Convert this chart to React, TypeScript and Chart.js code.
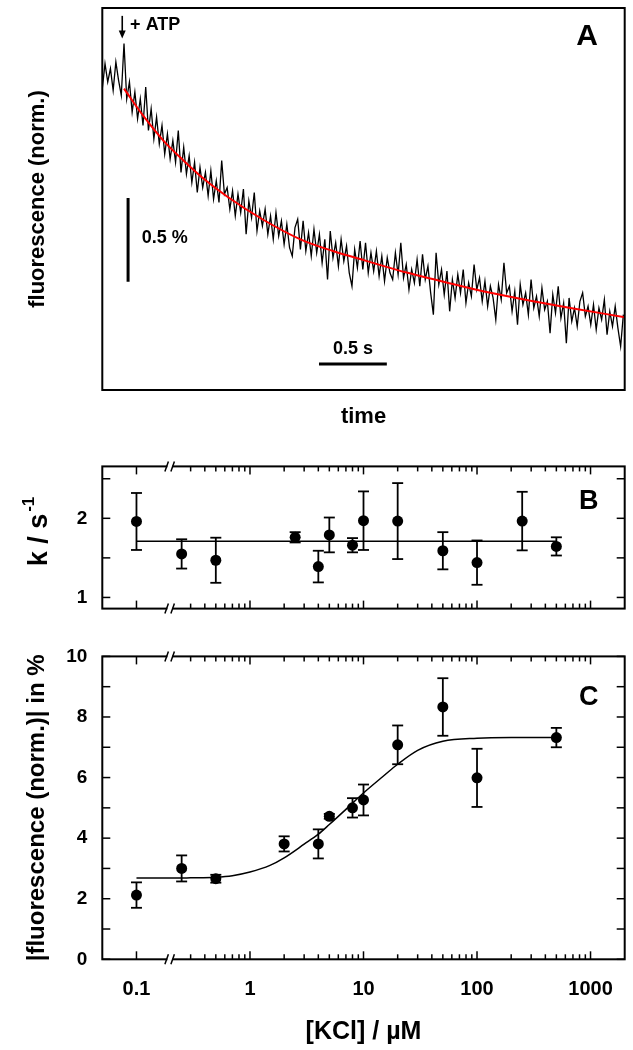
import React, { useEffect, useRef } from "react";
import { Chart, registerables } from "chart.js";

Chart.register(...registerables);

const FONT = "'Liberation Sans', Arial, Helvetica, sans-serif";

// ---------------- Panel A: fluorescence trace ----------------
const TRACE_DT = 0.02; // sampling interval, s
const traceValues = [
  1.80, 1.95, 1.84, 1.92, 1.79, 1.96, 1.85, 1.76, 2.07, 1.74,
  1.84, 1.66, 1.78, 1.62, 1.74, 1.58, 1.81, 1.55, 1.68, 1.50,
  1.63, 1.47, 1.58, 1.41, 1.53, 1.38, 1.49, 1.36, 1.55, 1.30,
  1.45, 1.29, 1.40, 1.24, 1.36, 1.18, 1.33, 1.21, 1.30, 1.16,
  1.31, 1.14, 1.25, 1.12, 1.37, 1.17, 1.21, 1.08, 1.19, 1.04,
  1.17, 1.06, 1.20, 0.93, 1.13, 1.03, 1.18, 0.95, 1.07, 0.98,
  1.08, 0.93, 1.04, 0.90, 1.06, 0.92, 1.01, 0.87, 0.99, 0.85,
  0.80, 0.97, 1.02, 0.84, 1.01, 0.83, 0.94, 0.80, 0.96, 0.82,
  0.93, 0.76, 0.90, 0.66, 0.95, 0.79, 0.88, 0.74, 0.90, 0.77,
  0.86, 0.70, 0.62, 0.84, 0.73, 0.89, 0.72, 0.88, 0.70, 0.82,
  0.71, 0.83, 0.68, 0.80, 0.65, 0.79, 0.70, 0.66, 0.82, 0.69,
  0.88, 0.67, 0.75, 0.60, 0.72, 0.64, 0.78, 0.62, 0.81, 0.66,
  0.74, 0.58, 0.45, 0.82, 0.63, 0.72, 0.57, 0.71, 0.47, 0.66,
  0.55, 0.69, 0.58, 0.72, 0.52, 0.64, 0.56, 0.75, 0.60, 0.67,
  0.53, 0.65, 0.50, 0.62, 0.55, 0.42, 0.63, 0.54, 0.76, 0.58,
  0.62, 0.47, 0.59, 0.39, 0.63, 0.51, 0.58, 0.45, 0.66, 0.49,
  0.56, 0.44, 0.61, 0.48, 0.53, 0.34, 0.57, 0.46, 0.62, 0.43,
  0.52, 0.28, 0.55, 0.41, 0.49, 0.38, 0.53, 0.58, 0.44, 0.50,
  0.39, 0.51, 0.36, 0.49, 0.42, 0.54, 0.33, 0.47, 0.38, 0.50,
  0.37, 0.26, 0.45,
];
const fitTimes = [0.16, 0.30, 0.45, 0.60, 0.75, 0.93, 1.18, 1.46, 1.70, 1.95, 2.25, 2.50, 2.75, 3.08, 3.45, 3.85];
const fitValues = [1.80, 1.64, 1.49, 1.37, 1.26, 1.15, 1.02, 0.90, 0.83, 0.77, 0.70, 0.65, 0.60, 0.545, 0.49, 0.435];
const barVTime = [0.19, 0.19];
const barVValue = [0.647, 1.147];
const barHTime = [1.597, 2.097];
const barHValue = [0.155, 0.155];
const ATP_TIME = 0.147;
const TIME_MAX = 3.85;
const FLUO_MAX = 2.282;

// ---------------- Panel B: rate constants ----------------
const kclB = [0.1, 0.25, 0.5, 2.5, 4, 5, 8, 10, 20, 50, 100, 250, 500];
const rateB = [1.96, 1.55, 1.47, 1.76, 1.39, 1.79, 1.66, 1.97, 1.965, 1.59, 1.44, 1.965, 1.645];
const rateErrB = [0.36, 0.185, 0.285, 0.065, 0.2, 0.22, 0.09, 0.37, 0.48, 0.235, 0.28, 0.37, 0.115];
const fitBConc = [0.1, 500];
const fitBRate = [1.71, 1.71];

// ---------------- Panel C: amplitudes ----------------
const kclC = [0.1, 0.25, 0.5, 2, 4, 5, 8, 10, 20, 50, 100, 500];
const amplC = [2.12, 3.0, 2.66, 3.81, 3.81, 4.72, 5.0, 5.26, 7.08, 8.33, 5.99, 7.32];
const amplErrC = [0.42, 0.43, 0.13, 0.25, 0.48, 0.08, 0.32, 0.51, 0.64, 0.95, 0.96, 0.32];
const fitCConc = [0.1, 0.2, 0.3, 0.5, 0.7, 1, 1.5, 2, 3, 4, 5, 7, 10, 15, 20, 30, 50, 100, 200, 500];
const fitCAmpl = [2.68, 2.68, 2.69, 2.71, 2.76, 2.88, 3.10, 3.35, 3.80, 4.13, 4.45, 4.95, 5.49, 6.05, 6.44, 6.90, 7.20, 7.30, 7.32, 7.32];

// ---------------- axes ----------------
const xTickValues = [0.1, 1, 10, 100, 1000];
const xTickLabels = ["0.1", "1", "10", "100", "1000"];
const xMinorMult = [2, 3, 4, 5, 6, 7, 8, 9];
const X_BREAK = 0.197;
const yTicksB = [1, 2];
const yTickLabelsB = ["1", "2"];
const yMinorB = [1, 1.5, 2, 2.5];
const yTicksC = [0, 2, 4, 6, 8, 10];
const yTickLabelsC = ["0", "2", "4", "6", "8", "10"];
const yMinorC = [0, 1, 2, 3, 4, 5, 6, 7, 8, 9, 10];

const X_MIN = 0.05;
const X_MAX = 2000;
const LEFT_W = 102.3;
const RIGHT_PAD = 8.3;

const xFrameTicks: { v: number; major: boolean }[] = [];
for (const d of xTickValues) {
  xFrameTicks.push({ v: d, major: true });
  if (d < 1000) {
    for (const m of xMinorMult) {
      const v = d * m;
      if (v > X_BREAK * 1.05) xFrameTicks.push({ v, major: false });
    }
  }
}

function seg(ctx: CanvasRenderingContext2D, x1: number, y1: number, x2: number, y2: number) {
  ctx.beginPath();
  ctx.moveTo(x1, y1);
  ctx.lineTo(x2, y2);
  ctx.stroke();
}

const framePlugin = {
  id: "frame",
  afterDatasetsDraw(chart: any, _args: any, opts: any) {
    const { ctx, chartArea: a, scales } = chart;
    ctx.save();
    ctx.strokeStyle = "#000";
    ctx.lineWidth = 1.5;
    if (opts.xTicks) {
      for (const t of opts.xTicks) {
        const px = scales.x.getPixelForValue(t.v);
        const len = t.major ? 8 : 5;
        seg(ctx, px, a.bottom, px, a.bottom - len);
        seg(ctx, px, a.top, px, a.top + len);
      }
    }
    if (opts.yTicks) {
      for (const v of opts.yTicks) {
        const py = scales.y.getPixelForValue(v);
        seg(ctx, a.left, py, a.left + 8, py);
        seg(ctx, a.right, py, a.right - 8, py);
      }
    }
    ctx.lineWidth = 2;
    ctx.strokeRect(a.left, a.top, a.right - a.left, a.bottom - a.top);
    if (opts.breakAt) {
      const bx = scales.x.getPixelForValue(opts.breakAt);
      for (const yy of [a.top, a.bottom]) {
        ctx.fillStyle = "#fff";
        ctx.fillRect(bx - 2.5, yy - 1.6, 5, 3.2);
        ctx.lineWidth = 1.5;
        seg(ctx, bx - 5, yy + 5, bx - 1.5, yy - 5);
        seg(ctx, bx + 1, yy + 5, bx + 4.5, yy - 5);
      }
    }
    ctx.restore();
  },
};

const errBarPlugin = {
  id: "errbars",
  afterDatasetsDraw(chart: any, _args: any, opts: any) {
    if (!opts.x) return;
    const { ctx, scales } = chart;
    ctx.save();
    ctx.strokeStyle = "#000";
    ctx.lineWidth = 1.8;
    opts.x.forEach((xv: number, i: number) => {
      const px = scales.x.getPixelForValue(xv);
      const top = scales.y.getPixelForValue(opts.y[i] + opts.err[i]);
      const bot = scales.y.getPixelForValue(opts.y[i] - opts.err[i]);
      seg(ctx, px, top, px, bot);
      seg(ctx, px - 5.5, top, px + 5.5, top);
      seg(ctx, px - 5.5, bot, px + 5.5, bot);
    });
    ctx.restore();
  },
};

const letterPlugin = {
  id: "letter",
  afterDraw(chart: any, _args: any, opts: any) {
    if (!opts.text) return;
    const { ctx, chartArea: a } = chart;
    ctx.save();
    ctx.fillStyle = "#000";
    ctx.font = `bold ${opts.size}px ${FONT}`;
    ctx.textAlign = "center";
    ctx.textBaseline = "middle";
    ctx.fillText(opts.text, a.right - opts.dx, a.top + opts.dy);
    ctx.restore();
  },
};

const panelAAnnot = {
  id: "panelAAnnot",
  afterDatasetsDraw(chart: any) {
    const { ctx, scales } = chart;
    const x = scales.x;
    const y = scales.y;
    ctx.save();
    ctx.fillStyle = "#000";
    ctx.strokeStyle = "#000";
    // arrow marking ATP addition
    const ax = x.getPixelForValue(ATP_TIME);
    const ay1 = y.getPixelForValue(2.235);
    const ay2 = y.getPixelForValue(2.1);
    ctx.lineWidth = 1.6;
    seg(ctx, ax, ay1, ax, ay2 - 6);
    ctx.beginPath();
    ctx.moveTo(ax - 3.5, ay2 - 8);
    ctx.lineTo(ax + 3.5, ay2 - 8);
    ctx.lineTo(ax, ay2);
    ctx.closePath();
    ctx.fill();
    ctx.font = `bold 18px ${FONT}`;
    ctx.textBaseline = "middle";
    ctx.textAlign = "left";
    ctx.fillText("+ ATP", x.getPixelForValue(0.205), y.getPixelForValue(2.18));
    ctx.fillText("0.5 %", x.getPixelForValue(0.29), y.getPixelForValue(0.908));
    ctx.textAlign = "center";
    ctx.fillText("0.5 s", x.getPixelForValue(1.847), y.getPixelForValue(0.245));
    ctx.restore();
  },
};

const kTitlePlugin = {
  id: "kTitle",
  afterDraw(chart: any) {
    const { ctx, chartArea: a } = chart;
    ctx.save();
    ctx.fillStyle = "#000";
    ctx.translate(40, (a.top + a.bottom) / 2 - 6);
    ctx.rotate(-Math.PI / 2);
    ctx.font = `bold 27px ${FONT}`;
    const main = "k / s";
    const w1 = ctx.measureText(main).width;
    ctx.font = `bold 17px ${FONT}`;
    const sup = "-1";
    const w2 = ctx.measureText(sup).width;
    const x0 = -(w1 + w2 + 2) / 2;
    ctx.textAlign = "left";
    ctx.textBaseline = "middle";
    ctx.font = `bold 27px ${FONT}`;
    ctx.fillText(main, x0, 0);
    ctx.font = `bold 17px ${FONT}`;
    ctx.fillText(sup, x0 + w1 + 2, -11);
    ctx.restore();
  },
};

const tickFont = { family: FONT, size: 20, weight: "bold" as const };
const yTickFont = { family: FONT, size: 19, weight: "bold" as const };

function logXAxis(display: boolean, height: number, title?: string) {
  return {
    type: "logarithmic" as const,
    min: X_MIN,
    max: X_MAX,
    display,
    grid: { display: false, drawTicks: false },
    border: { display: false },
    afterBuildTicks: (s: any) => {
      s.ticks = xTickValues.map((v) => ({ value: v }));
    },
    ticks: {
      callback: (_v: any, i: number) => xTickLabels[i],
      font: tickFont,
      color: "#000",
      padding: 18,
      maxRotation: 0,
      autoSkip: false,
    },
    title: title
      ? { display: true, text: title, color: "#000", font: { family: FONT, size: 25, weight: "bold" as const }, padding: { top: 0, bottom: 3.3 } }
      : { display: false },
    afterFit: (s: any) => {
      s.height = height;
    },
  };
}

export default function App() {
  const refA = useRef<HTMLCanvasElement>(null);
  const refB = useRef<HTMLCanvasElement>(null);
  const refC = useRef<HTMLCanvasElement>(null);

  useEffect(() => {
    const common = {
      responsive: false,
      animation: false as const,
      events: [] as any[],
    };

    const chartA = new Chart(refA.current!, {
      type: "scatter",
      data: {
        datasets: [
          {
            data: traceValues.map((v, i) => ({ x: i * TRACE_DT, y: v })),
            showLine: true,
            borderColor: "#000",
            borderWidth: 1.3,
            pointRadius: 0,
            order: 2,
          },
          {
            data: fitTimes.map((t, i) => ({ x: t, y: fitValues[i] })),
            showLine: true,
            borderColor: "rgb(255,0,0)",
            borderWidth: 2,
            pointRadius: 0,
            cubicInterpolationMode: "monotone",
            order: 0,
          },
          {
            data: barVTime.map((t, i) => ({ x: t, y: barVValue[i] })),
            showLine: true,
            borderColor: "#000",
            borderWidth: 3,
            pointRadius: 0,
            order: 1,
          },
          {
            data: barHTime.map((t, i) => ({ x: t, y: barHValue[i] })),
            showLine: true,
            borderColor: "#000",
            borderWidth: 3,
            pointRadius: 0,
            order: 1,
          },
        ],
      },
      options: {
        ...common,
        layout: { padding: { left: 0, right: RIGHT_PAD, top: 8, bottom: 0 } },
        scales: {
          x: {
            type: "linear",
            min: 0,
            max: TIME_MAX,
            grid: { display: false, drawTicks: false },
            border: { display: false },
            ticks: { display: false },
            title: { display: true, text: "time", color: "#000", font: { family: FONT, size: 22, weight: "bold" }, padding: { top: 0, bottom: 9.8 } },
            afterFit: (s: any) => {
              s.height = 50;
            },
          },
          y: {
            type: "linear",
            min: 0,
            max: FLUO_MAX,
            grid: { display: false, drawTicks: false },
            border: { display: false },
            ticks: { display: false },
            title: { display: true, text: "fluorescence (norm.)", color: "#000", font: { family: FONT, size: 22, weight: "bold" }, padding: { top: 24.3, bottom: 0 } },
            afterFit: (s: any) => {
              s.width = LEFT_W;
            },
          },
        },
        plugins: {
          legend: { display: false },
          tooltip: { enabled: false },
          frame: {},
          letter: { text: "A", size: 30, dx: 37.5, dy: 28.7 },
        } as any,
      },
      plugins: [framePlugin, panelAAnnot, letterPlugin],
    } as any);

    const chartB = new Chart(refB.current!, {
      type: "scatter",
      data: {
        datasets: [
          {
            data: fitBConc.map((c, i) => ({ x: c, y: fitBRate[i] })),
            showLine: true,
            borderColor: "#000",
            borderWidth: 1.5,
            pointRadius: 0,
          },
          {
            data: kclB.map((c, i) => ({ x: c, y: rateB[i] })),
            pointRadius: 5.5,
            pointBackgroundColor: "#000",
            pointBorderColor: "#000",
            pointBorderWidth: 0,
          },
        ],
      },
      options: {
        ...common,
        layout: { padding: { left: 0, right: RIGHT_PAD, top: 20, bottom: 6 } },
        scales: {
          x: logXAxis(false, 0),
          y: {
            type: "linear",
            min: 0.859,
            max: 2.656,
            grid: { display: false, drawTicks: false },
            border: { display: false },
            afterBuildTicks: (s: any) => {
              s.ticks = yTicksB.map((v) => ({ value: v }));
            },
            ticks: { callback: (_v: any, i: number) => yTickLabelsB[i], font: yTickFont, color: "#000", padding: 15 },
            title: { display: false },
            afterFit: (s: any) => {
              s.width = LEFT_W;
            },
          },
        },
        plugins: {
          legend: { display: false },
          tooltip: { enabled: false },
          frame: { xTicks: xFrameTicks, yTicks: yMinorB, breakAt: X_BREAK },
          errbars: { x: kclB, y: rateB, err: rateErrB },
          letter: { text: "B", size: 27, dx: 36, dy: 35 },
        } as any,
      },
      plugins: [framePlugin, errBarPlugin, letterPlugin, kTitlePlugin],
    } as any);

    const chartC = new Chart(refC.current!, {
      type: "scatter",
      data: {
        datasets: [
          {
            data: fitCConc.map((c, i) => ({ x: c, y: fitCAmpl[i] })),
            showLine: true,
            borderColor: "#000",
            borderWidth: 1.5,
            pointRadius: 0,
            cubicInterpolationMode: "monotone",
          },
          {
            data: kclC.map((c, i) => ({ x: c, y: amplC[i] })),
            pointRadius: 5.5,
            pointBackgroundColor: "#000",
            pointBorderColor: "#000",
            pointBorderWidth: 0,
          },
        ],
      },
      options: {
        ...common,
        layout: { padding: { left: 0, right: RIGHT_PAD, top: 19.3, bottom: 0 } },
        scales: {
          x: logXAxis(true, 90.7, "[KCl] / µM"),
          y: {
            type: "linear",
            min: 0,
            max: 10,
            grid: { display: false, drawTicks: false },
            border: { display: false },
            afterBuildTicks: (s: any) => {
              s.ticks = yTicksC.map((v) => ({ value: v }));
            },
            ticks: { callback: (_v: any, i: number) => yTickLabelsC[i], font: yTickFont, color: "#000", padding: 15 },
            title: { display: true, text: "|fluorescence (norm.)| in %", color: "#000", font: { family: FONT, size: 24, weight: "bold" }, padding: { top: 22.6, bottom: 0 } },
            afterFit: (s: any) => {
              s.width = LEFT_W;
            },
          },
        },
        plugins: {
          legend: { display: false },
          tooltip: { enabled: false },
          frame: { xTicks: xFrameTicks, yTicks: yMinorC, breakAt: X_BREAK },
          errbars: { x: kclC, y: amplC, err: amplErrC },
          letter: { text: "C", size: 27, dx: 36, dy: 41 },
        } as any,
      },
      plugins: [framePlugin, errBarPlugin, letterPlugin],
    } as any);

    return () => {
      chartA.destroy();
      chartB.destroy();
      chartC.destroy();
    };
  }, []);

  const abs = (top: number, height: number): React.CSSProperties => ({
    position: "absolute",
    left: 0,
    top,
    width: 633,
    height,
    display: "block",
  });

  return (
    <div style={{ position: "absolute", left: 0, top: 0, width: 633, height: 1050, background: "#fff", overflow: "hidden" }}>
      <canvas ref={refA} width={633} height={440} style={abs(0, 440)} />
      <canvas ref={refB} width={633} height={195} style={abs(440, 195)} />
      <canvas ref={refC} width={633} height={420} style={abs(630, 420)} />
    </div>
  );
}
